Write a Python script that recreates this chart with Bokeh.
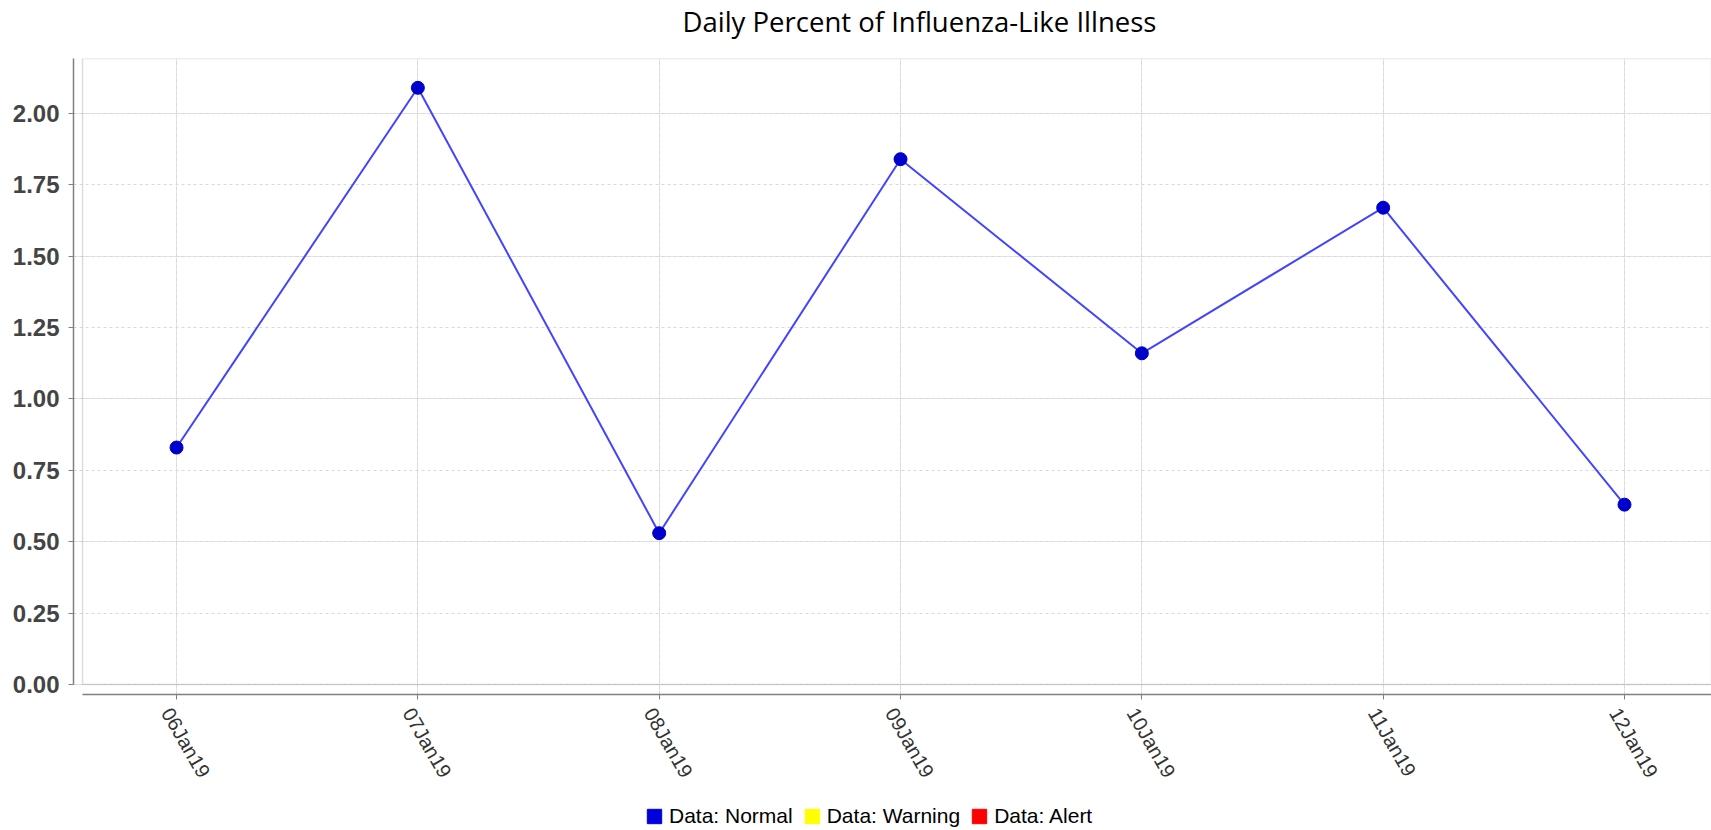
import math
from bokeh.plotting import figure
from bokeh.layouts import column
from bokeh.models import (Range1d, LinearAxis, FixedTicker, NumeralTickFormatter,
                          CustomJSTickFormatter, Legend, LegendItem, Title,
                          ColumnDataSource, Grid, BoxAnnotation)
from bokeh.embed import file_html
from bokeh.resources import INLINE

# ---- data ----
dates = ["06Jan19", "07Jan19", "08Jan19", "09Jan19", "10Jan19", "11Jan19", "12Jan19"]
ili_percent = [0.83, 2.09, 0.53, 1.84, 1.16, 1.67, 0.63]
y_ticks = [0.0, 0.25, 0.5, 0.75, 1.0, 1.25, 1.5, 1.75, 2.0]
legend_labels = ["Data: Normal", "Data: Warning", "Data: Alert"]
legend_colors = ["#0000dd", "#ffff00", "#ff0000"]
title_text = "Daily Percent of Influenza-Like Illness"

xs = list(range(len(dates)))
src = ColumnDataSource(data=dict(x=xs, y=ili_percent))

X0, X1 = -0.427, 6.3605     # frame (includes offset gap for axes)
BOX_LEFT = -0.3895
Y0, Y1 = -0.035, 2.1926
LABEL_SHIFT = -0.041         # rotated labels hang slightly left of their ticks
GRAY = "#8a8a8a"
W = 1711

def blank(height):
    f = figure(width=W, height=height, output_backend="svg", toolbar_location=None,
               x_range=Range1d(0, 1), y_range=Range1d(0, 1),
               x_axis_location=None, y_axis_location=None,
               min_border=0, outline_line_color=None,
               background_fill_color="white", border_fill_color="white")
    f.xgrid.visible = False
    f.ygrid.visible = False
    return f

# ---- title strip ----
pt = blank(56)
pt.title = Title(text=title_text, align="left", offset=609,
                 text_font="Open Sans", text_font_size="27.5px",
                 text_font_style="normal", text_color="#000000", standoff=0)

# ---- main plot ----
p = figure(width=W, height=744, output_backend="svg", toolbar_location=None,
           x_range=Range1d(X0, X1), y_range=Range1d(Y0, Y1),
           x_axis_location=None, y_axis_location=None,
           min_border_left=73, min_border_right=0, min_border_top=2,
           min_border_bottom=106, background_fill_color="white",
           border_fill_color="white", outline_line_color=None)

yax = LinearAxis(ticker=FixedTicker(ticks=y_ticks), bounds=(0, Y1),
                 formatter=NumeralTickFormatter(format="0.00"),
                 axis_line_color="#808080", axis_line_width=1.5,
                 major_tick_line_color="#808080", major_tick_out=5, major_tick_in=0,
                 minor_tick_line_color=None, major_label_standoff=9,
                 major_label_text_font="Liberation Sans",
                 major_label_text_font_style="bold",
                 major_label_text_font_size="24px",
                 major_label_text_color="#444444")
p.add_layout(yax, "left")

# x axis line + ticks (no labels)
xax = LinearAxis(ticker=FixedTicker(ticks=xs), bounds=(BOX_LEFT, X1),
                 formatter=CustomJSTickFormatter(code="return ''"),
                 axis_line_color="#808080", axis_line_width=1.5,
                 major_tick_line_color="#808080", major_tick_out=5, major_tick_in=0,
                 minor_tick_line_color=None, major_label_standoff=0,
                 major_label_text_font_size="2px")
p.add_layout(xax, "below")

# x tick labels, rotated
xlab = LinearAxis(ticker=FixedTicker(ticks=[x + LABEL_SHIFT for x in xs]),
                  formatter=CustomJSTickFormatter(args=dict(labels=dates),
                                                  code="return labels[index]"),
                  axis_line_color=None, major_tick_line_color=None,
                  minor_tick_line_color=None, major_tick_out=0, major_tick_in=0,
                  major_label_standoff=10,
                  major_label_orientation=-math.pi / 3,
                  major_label_text_font="Liberation Sans",
                  major_label_text_font_size="20px",
                  major_label_text_color="#333333")
p.add_layout(xlab, "below")

p.add_layout(Grid(dimension=0, ticker=FixedTicker(ticks=xs), bounds=(0, Y1),
                  grid_line_color="#d9d9d9", grid_line_dash="3 3"))
p.add_layout(Grid(dimension=1, ticker=FixedTicker(ticks=y_ticks), bounds=(BOX_LEFT, X1),
                  grid_line_color="#d9d9d9", grid_line_dash="3 3"))

p.add_layout(BoxAnnotation(left=BOX_LEFT, bottom=0, fill_color=None,
                           line_color=GRAY, line_width=1.5))

p.line("x", "y", source=src, line_color="#4444ff", line_width=2)
p.scatter("x", "y", source=src, size=13, marker="circle",
          fill_color="#0000cc", line_color="#0000cc")

# ---- legend strip ----
pl = blank(30)
items = []
for i, (lab, col) in enumerate(zip(legend_labels, legend_colors)):
    r = pl.rect(x=[i], y=[0], width=1, height=1, fill_color=col, line_color=col,
                visible=False)
    items.append(LegendItem(label=lab, renderers=[r]))
legend = Legend(items=items, orientation="horizontal", location=(572, 2),
                border_line_color=None, background_fill_alpha=0,
                label_text_font="Liberation Sans", label_text_font_size="21px",
                label_text_color="#000000", glyph_width=18, glyph_height=18,
                spacing=10, padding=0, margin=0, label_standoff=6)
pl.add_layout(legend, "center")

layout = column(pt, p, pl, spacing=0)
open("out.html", "w").write(file_html(layout, INLINE))
